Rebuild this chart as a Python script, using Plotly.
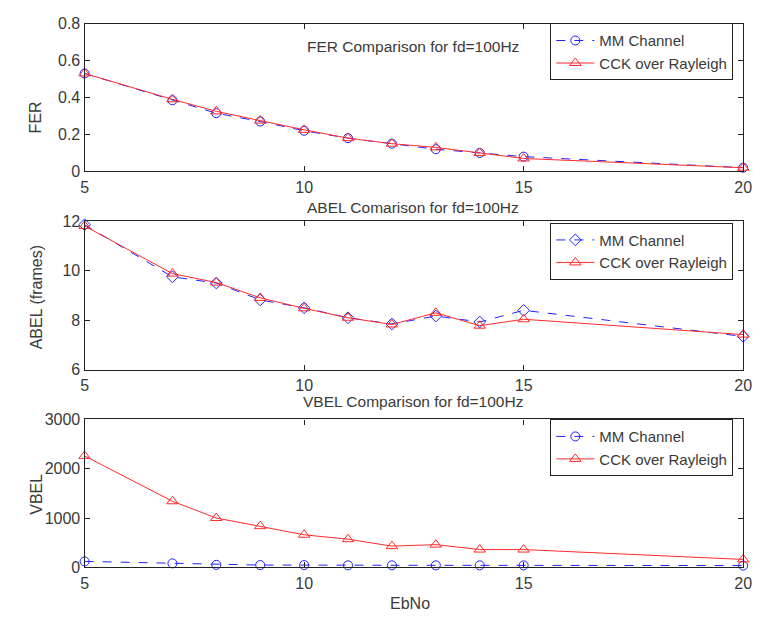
import plotly.graph_objects as go

# Eb/No points (dB)
ebno = [5, 7, 8, 9, 10, 11, 12, 13, 14, 15, 20]

# Frame error rate
fer_mm = [0.53, 0.385, 0.315, 0.27, 0.22, 0.18, 0.15, 0.12, 0.10, 0.08, 0.02]
fer_cck = [0.53, 0.39, 0.325, 0.275, 0.225, 0.18, 0.15, 0.13, 0.10, 0.07, 0.02]

# Average burst error length (frames)
abel_mm = [11.85, 9.75, 9.5, 8.82, 8.5, 8.1, 7.85, 8.17, 7.93, 8.4, 7.35]
abel_cck = [11.8, 9.88, 9.52, 8.9, 8.48, 8.1, 7.83, 8.3, 7.78, 8.04, 7.42]

# Variance of burst error length
vbel_mm = [120, 80, 50, 45, 45, 40, 40, 40, 40, 40, 35]
vbel_cck = [2260, 1340, 1000, 835, 660, 570, 430, 460, 360, 360, 160]

series_names = ["MM Channel", "CCK over Rayleigh"]
titles = ["FER Comparison for fd=100Hz", "ABEL Comarison for fd=100Hz",
          "VBEL Comparison for fd=100Hz"]
ylabels = ["FER", "ABEL (frames)", "VBEL"]
xlabel = "EbNo"

FONT = "Liberation Sans, Arial, sans-serif"
FS = 16
TXT = "#3a3a3a"
BLUE = "#2020ff"
RED = "#ff2a2a"

W, H = 761, 623
x0, x1 = 82, 752
panels = [  # (top px, bottom px)
    (16, 168),
    (219, 372),
    (423, 575),
]

def ydom(top, bot):
    return [1 - bot / H, 1 - top / H]

fig = go.Figure()

data = [
    (fer_mm, fer_cck, "circle-open", [0, 0.8], [0, 0.2, 0.4, 0.6, 0.8],
     ["0", "0.2", "0.4", "0.6", "0.8"]),
    (abel_mm, abel_cck, "diamond-open", [6, 12], [6, 8, 10, 12],
     ["6", "8", "10", "12"]),
    (vbel_mm, vbel_cck, "circle-open", [0, 3000], [0, 1000, 2000, 3000],
     ["0", "1000", "2000", "3000"]),
]

# vertical centre of each legend box (px from top)
legend_mid = [45, 250, 452]

for i, (mm, cck, mm_sym, yr, yt, ytl) in enumerate(data):
    n = i + 1
    xa = "x" if n == 1 else f"x{n}"
    ya = "y" if n == 1 else f"y{n}"
    lg = "legend" if n == 1 else f"legend{n}"
    fig.add_trace(go.Scatter(
        x=ebno, y=mm, name=series_names[0], xaxis=xa, yaxis=ya, legend=lg,
        mode="lines+markers",
        line=dict(color=BLUE, width=1, dash="dash"),
        marker=dict(symbol=mm_sym, size=9, color=BLUE, line=dict(width=1)),
        cliponaxis=False,
    ))
    fig.add_trace(go.Scatter(
        x=ebno, y=cck, name=series_names[1], xaxis=xa, yaxis=ya, legend=lg,
        mode="lines+markers",
        line=dict(color=RED, width=1),
        marker=dict(symbol="triangle-up-open", size=10, color=RED, line=dict(width=1)),
        cliponaxis=False,
    ))
    top, bot = panels[i]
    axis_common = dict(
        showline=True, linecolor="#222", linewidth=1.3, mirror="ticks",
        ticks="inside", ticklen=5, tickcolor="#222", showgrid=False,
        zeroline=False, tickfont=dict(family=FONT, size=FS, color=TXT),
    )
    fig.layout[f"xaxis{n if n > 1 else ''}"] = dict(
        domain=[x0 / W, x1 / W], range=[5, 20], tickvals=[5, 10, 15, 20],
        anchor=ya, ticklabelstandoff=1, **axis_common)
    fig.layout[f"yaxis{n if n > 1 else ''}"] = dict(
        domain=ydom(top, bot), range=yr, tickvals=yt, ticktext=ytl,
        anchor=xa, **axis_common)
    fig.layout[lg] = dict(
        x=742 / W, xanchor="right", y=1 - legend_mid[i] / H, yanchor="middle",
        bgcolor="white", bordercolor="#222", borderwidth=1,
        font=dict(family=FONT, size=15, color=TXT),
        tracegroupgap=0, itemwidth=38,
    )

# panel titles
title_y = [40, 205, 405]
for t, ty in zip(titles, title_y):
    fig.add_annotation(text=t, x=416 / W, y=1 - ty / H, xref="paper", yref="paper",
                       showarrow=False, xanchor="center", yanchor="middle",
                       font=dict(family=FONT, size=15.5, color=TXT))

# y-axis labels
ylab_y = [112, 297, 500]
for t, ty in zip(ylabels, ylab_y):
    fig.add_annotation(text=t, x=33 / W, y=1 - ty / H, xref="paper", yref="paper",
                       showarrow=False, textangle=-90, xanchor="center",
                       yanchor="middle", font=dict(family=FONT, size=FS, color=TXT))

fig.add_annotation(text=xlabel, x=413 / W, y=1 - 612 / H, xref="paper", yref="paper",
                   showarrow=False, xanchor="center", yanchor="middle",
                   font=dict(family=FONT, size=FS, color=TXT))

fig.update_layout(
    width=W, height=H, margin=dict(l=0, r=0, t=0, b=0),
    paper_bgcolor="white", plot_bgcolor="white", showlegend=True,
)

fig.write_html("out.html")
